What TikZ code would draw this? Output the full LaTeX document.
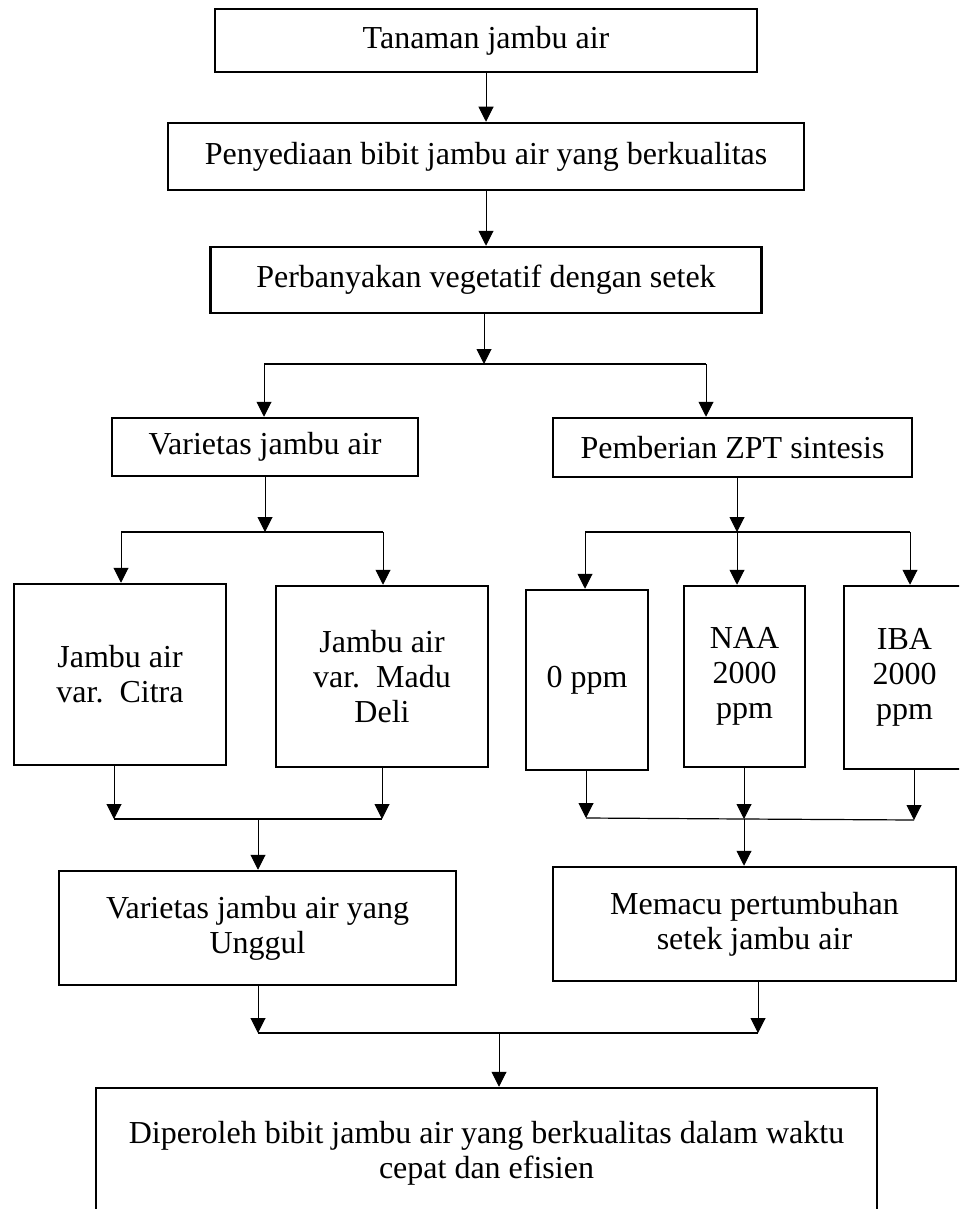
\documentclass[tikz,border=0pt]{standalone}
\usepackage{fontspec}
\setmainfont{Liberation Serif}
\usetikzlibrary{arrows.meta}

\tikzset{
   box/.style={draw, line width=2.5pt, align=center, inner sep=0pt,
      font=\fontsize{32}{35}\selectfont},
   arr/.style={line width=1pt, -{Triangle[length=15pt,width=15pt]}},
   conn/.style={line width=1.2pt}
}

\begin{document}
\begin{tikzpicture}[x=1pt,y=-1pt]

   \useasboundingbox (0,0) rectangle (959,1209);
   \clip (0,0) rectangle (959,1209);

   \node (tanaman) at (486,40.5) [box, minimum width=542, minimum height=63] {Tanaman jambu air};
   \node (penyediaan) at (486,156.5) [box, minimum width=636, minimum height=67] {Penyediaan bibit jambu air yang berkualitas};
   \node (perbanyakan) at (486,280) [box, minimum width=551, minimum height=66] {Perbanyakan vegetatif dengan setek};
   \node (varietas) at (265,447) [box, minimum width=306, minimum height=58] {Varietas jambu air};
   \node (pemberian) at (732.5,447.5) [box, minimum width=359, minimum height=59] {Pemberian ZPT sintesis};
   \node (citra) at (120,674.5) [box, minimum width=212, minimum height=181] {Jambu air\\var.\ \ Citra};
   \node (madu) at (382,676.5) [box, minimum width=212, minimum height=181] {Jambu air\\var.\ \ Madu\\Deli};
   \node (nol) at (587,680) [box, minimum width=122, minimum height=180] {0 ppm};
   \node (naa) at (744.5,676.5) [box, minimum width=121, minimum height=181] {NAA\\2000\\ppm};
   \node (iba) at (904.5,677.5) [box, minimum width=121, minimum height=183] {IBA\\2000\\ppm};
   \node (unggul) at (257.5,928) [box, minimum width=397, minimum height=114] {Varietas jambu air yang\\Unggul};
   \node (memacu) at (754.5,924) [box, minimum width=403, minimum height=114] {Memacu pertumbuhan\\setek jambu air};
   \node (diperoleh) at (486.5,1153) [box, minimum width=781, minimum height=130] {Diperoleh bibit jambu air yang berkualitas dalam waktu\\cepat dan efisien};

   \coordinate (fork1) at (484,364);
   \coordinate (fork1L) at (264,364);
   \coordinate (fork1R) at (706,364);
   \coordinate (fork2) at (265,532);
   \coordinate (fork2L) at (121,532);
   \coordinate (fork2R) at (383,532);
   \coordinate (fork3) at (737,532);
   \coordinate (fork3L) at (585,532);
   \coordinate (fork3R) at (910,532);
   \coordinate (join4) at (258,819);
   \coordinate (join4L) at (114,819);
   \coordinate (join4R) at (382,819);
   \coordinate (join5) at (744,819);
   \coordinate (join5L) at (586,818);
   \coordinate (join5R) at (914,820);
   \coordinate (join6) at (499,1033);
   \coordinate (join6L) at (258,1033);
   \coordinate (join6R) at (758,1033);

   \draw [arr] (tanaman.south) -- (penyediaan.north);
   \draw [arr] (penyediaan.south) -- (perbanyakan.north);

   \draw [arr] (perbanyakan.south -| fork1) -- (fork1);
   \draw [conn] (fork1L) -- (fork1R);
   \draw [arr] (fork1L) -- (fork1L |- varietas.north);
   \draw [arr] (fork1R) -- (fork1R |- pemberian.north);

   \draw [arr] (varietas.south -| fork2) -- (fork2);
   \draw [conn] (fork2L) -- (fork2R);
   \draw [arr] (fork2L) -- (fork2L |- citra.north);
   \draw [arr] (fork2R) -- (fork2R |- madu.north);

   \draw [arr] (pemberian.south -| fork3) -- (fork3);
   \draw [conn] (fork3L) -- (fork3R);
   \draw [arr] (fork3L) -- (fork3L |- nol.north);
   \draw [arr] (fork3) -- (fork3 |- naa.north);
   \draw [arr] (fork3R) -- (fork3R |- iba.north);

   \draw [arr] (citra.south -| join4L) -- (join4L);
   \draw [arr] (madu.south -| join4R) -- (join4R);
   \draw [conn] (join4L) -- (join4R);
   \draw [arr] (join4) -- (join4 |- unggul.north);

   \draw [arr] (nol.south -| join5L) -- (join5L);
   \draw [arr] (naa.south -| join5) -- (join5);
   \draw [arr] (iba.south -| join5R) -- (join5R);
   \draw [conn] (join5L) -- (join5) -- (join5R);
   \draw [arr] (join5) -- (join5 |- memacu.north);

   \draw [arr] (unggul.south -| join6L) -- (join6L);
   \draw [arr] (memacu.south -| join6R) -- (join6R);
   \draw [conn] (join6L) -- (join6R);
   \draw [arr] (join6) -- (join6 |- diperoleh.north);

\end{tikzpicture}
\end{document}
